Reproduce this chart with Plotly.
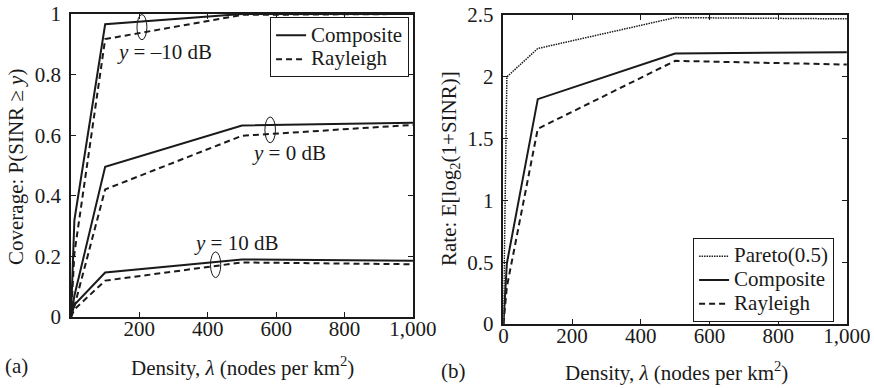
import plotly.graph_objects as go

# ---- data ----
density = [0, 10, 100, 500, 1000]

cov_m10_composite = [0, 0.32, 0.966, 1.0, 1.0]
cov_m10_rayleigh = [0, 0.21, 0.917, 0.997, 1.0]
cov_0_composite = [0, 0.07, 0.496, 0.632, 0.641]
cov_0_rayleigh = [0, 0.035, 0.421, 0.598, 0.634]
cov_10_composite = [0, 0.04, 0.147, 0.19, 0.186]
cov_10_rayleigh = [0, 0.025, 0.12, 0.18, 0.174]

rate_pareto = [0, 2.0, 2.23, 2.48, 2.47]
rate_composite = [0, 0.49, 1.82, 2.19, 2.2]
rate_rayleigh = [0, 0.3, 1.58, 2.13, 2.10]

left_xticks = [200, 400, 600, 800, 1000]
left_xticktext = ["200", "400", "600", "800", "1,000"]
right_xticks = [0, 200, 400, 600, 800, 1000]
right_xticktext = ["0", "200", "400", "600", "800", "1,000"]
left_yticks = [0, 0.2, 0.4, 0.6, 0.8, 1]
left_yticktext = ["0", "0.2", "0.4", "0.6", "0.8", "1"]
right_yticks = [0, 0.5, 1, 1.5, 2, 2.5]
right_yticktext = ["0", "0.5", "1", "1.5", "2", "2.5"]

FONT = "Liberation Serif"
FS = 21
INK = "#1a1a1a"
SOLID = dict(color=INK, width=2)
DASH = dict(color=INK, width=2, dash="6px,4px")
DOT = dict(color=INK, width=1.5, dash="1.5px,1px")


def big(label):
    # legend text drawn at full size while the legend rows stay compact
    return f"<span style='font-size:{FS}px'>{label}</span>"


fig = go.Figure()

# left panel
for name, ys, line, show in [
    ("Composite", cov_m10_composite, SOLID, True),
    ("Rayleigh", cov_m10_rayleigh, DASH, True),
    ("Composite", cov_0_composite, SOLID, False),
    ("Rayleigh", cov_0_rayleigh, DASH, False),
    ("Composite", cov_10_composite, SOLID, False),
    ("Rayleigh", cov_10_rayleigh, DASH, False),
]:
    fig.add_trace(go.Scatter(x=density, y=ys, mode="lines", name=big(name), line=line,
                             showlegend=show, legend="legend", xaxis="x", yaxis="y"))

# right panel
for name, ys, line in [
    ("Pareto(0.5)", rate_pareto, DOT),
    ("Composite", rate_composite, SOLID),
    ("Rayleigh", rate_rayleigh, DASH),
]:
    fig.add_trace(go.Scatter(x=density, y=ys, mode="lines", name=big(name), line=line,
                             legend="legend2", xaxis="x2", yaxis="y2"))

axis_common = dict(showline=True, linecolor=INK, linewidth=1.5, mirror="ticks",
                   ticks="inside", ticklen=5, tickwidth=1, tickcolor=INK,
                   showgrid=False, zeroline=False, automargin=False,
                   tickfont=dict(family=FONT, size=FS, color=INK))

fig.update_layout(
    width=874, height=388,
    margin=dict(l=0, r=0, t=0, b=0, pad=0),
    paper_bgcolor="white", plot_bgcolor="white",
    font=dict(family=FONT, size=FS, color=INK),
    xaxis=dict(domain=[0.0812, 0.4725], range=[0, 1000], tickvals=left_xticks,
               ticktext=left_xticktext, anchor="y", ticklabelstandoff=-8, **axis_common),
    yaxis=dict(domain=[0.183, 0.964], range=[0, 1], tickvals=left_yticks,
               ticktext=left_yticktext, anchor="x", ticklabelstandoff=4, **axis_common),
    xaxis2=dict(domain=[0.576, 0.969], range=[0, 1000], tickvals=right_xticks,
                ticktext=right_xticktext, anchor="y2", ticklabelstandoff=-8, **axis_common),
    yaxis2=dict(domain=[0.165, 0.961], range=[0, 2.5], tickvals=right_yticks,
                ticktext=right_yticktext, anchor="x2", ticklabelstandoff=4, **axis_common),
    legend=dict(x=0.309, y=0.955, xanchor="left", yanchor="top",
                bordercolor=INK, borderwidth=1, bgcolor="white",
                font=dict(family=FONT, size=16, color=INK),
                tracegroupgap=0, itemwidth=30),
    legend2=dict(x=0.793, y=0.386, xanchor="left", yanchor="top",
                 bordercolor=INK, borderwidth=1, bgcolor="white",
                 font=dict(family=FONT, size=16, color=INK),
                 tracegroupgap=0, itemwidth=30),
)

# ellipses marking curve groups
for (x0, x1, y0, y1) in [(193, 222, 0.915, 0.998), (567, 598, 0.575, 0.66), (408, 438, 0.13, 0.215)]:
    fig.add_shape(type="circle", xref="x", yref="y", x0=x0, x1=x1, y0=y0, y1=y1,
                  line=dict(color=INK, width=1))

# in-plot labels
for txt, x, y in [("<i>y</i> = –10 dB", 129, 0.875), ("<i>y</i> = 0 dB", 523, 0.541),
                  ("<i>y</i> = 10 dB", 354, 0.244)]:
    fig.add_annotation(text=txt, x=x, y=y, xref="x", yref="y", xanchor="left",
                       yanchor="middle", showarrow=False,
                       font=dict(family=FONT, size=FS, color=INK))

# axis titles & panel labels
titles = [
    ("Coverage: P(SINR ≥ <i>y</i>)", 16 / 874, 1 - 167 / 388, -90),
    ("Density, <i>λ</i> (nodes per km<sup>2</sup>)", 242 / 874, 1 - 366 / 388, 0),
    ("(a)", 16 / 874, 1 - 366 / 388, 0),
    ("Rate: E[log<sub>2</sub>(1+SINR)]", 450 / 874, 1 - 169 / 388, -90),
    ("Density, <i>λ</i> (nodes per km<sup>2</sup>)", 676 / 874, 1 - 371 / 388, 0),
    ("(b)", 453 / 874, 1 - 371 / 388, 0),
]
for txt, x, y, ang in titles:
    fig.add_annotation(text=txt, x=x, y=y, xref="paper", yref="paper",
                       xanchor="center", yanchor="middle", textangle=ang,
                       showarrow=False, font=dict(family=FONT, size=FS, color=INK))

fig.write_html("out.html", config={"displayModeBar": False},
               post_script="document.body.style.margin='0';")
